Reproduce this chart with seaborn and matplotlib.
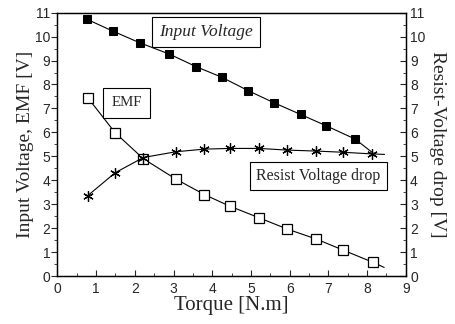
import matplotlib
matplotlib.use("Agg")
import matplotlib.pyplot as plt
from matplotlib.ticker import MultipleLocator
import seaborn as sns
import pandas as pd

sns.set_style("ticks")
plt.rcParams["font.family"] = ["Liberation Sans", "DejaVu Sans"]

# Input voltage (filled squares); the last entry is where the fitted curve ends
torque_in = [0.77, 1.43, 2.13, 2.89, 3.59, 4.25, 4.93, 5.59, 6.28, 6.95, 7.69, 8.18]
input_v = [10.72, 10.23, 9.74, 9.27, 8.74, 8.30, 7.74, 7.24, 6.75, 6.27, 5.72, 5.10]

# Back EMF (open squares)
torque_emf = [0.80, 1.49, 2.22, 3.06, 3.80, 4.45, 5.20, 5.94, 6.68, 7.37, 8.14, 8.44]
emf = [7.42, 5.99, 4.90, 4.05, 3.40, 2.92, 2.44, 1.96, 1.55, 1.09, 0.58, 0.36]

# Voltage drop across the winding resistance (asterisks, right axis)
torque_r = [0.78, 1.49, 2.22, 3.06, 3.79, 4.47, 5.21, 5.93, 6.67, 7.37, 8.13, 8.45]
resist = [3.35, 4.31, 4.95, 5.19, 5.30, 5.33, 5.33, 5.26, 5.22, 5.17, 5.10, 5.08]

x_ticks = list(range(0, 10))
y_ticks = list(range(0, 12))

df_in = pd.DataFrame({"torque": torque_in, "volt": input_v})
df_emf = pd.DataFrame({"torque": torque_emf, "volt": emf})
df_r = pd.DataFrame({"torque": torque_r, "volt": resist})

fig = plt.figure(figsize=(4.55, 3.24), dpi=100)
ax = fig.add_axes([0.126, 0.148, 0.766, 0.813])
ax2 = ax.twinx()

marked = slice(0, 11)
line_kw = dict(color="black", linewidth=0.8, sort=False, estimator=None)

sns.lineplot(data=df_in, x="torque", y="volt", ax=ax, marker="s", markersize=5.5,
             markerfacecolor="black", markeredgecolor="black", markevery=marked, **line_kw)
sns.lineplot(data=df_emf, x="torque", y="volt", ax=ax, marker="s", markersize=6.5,
             markerfacecolor="white", markeredgecolor="black", markeredgewidth=0.9,
             markevery=marked, **line_kw)
sns.lineplot(data=df_r, x="torque", y="volt", ax=ax2, marker=(6, 2, 0), markersize=7.5,
             markeredgecolor="black", markeredgewidth=0.9, markevery=marked, **line_kw)

for a in (ax, ax2):
    a.set_ylim(0, 11)
    a.set_yticks(y_ticks)
    a.yaxis.set_minor_locator(MultipleLocator(0.5))
ax.set_xlim(0, 9)
ax.set_xticks(x_ticks)
ax.xaxis.set_minor_locator(MultipleLocator(0.5))

ax.tick_params(axis="x", which="both", direction="in", labelsize=10, pad=4)
ax.tick_params(axis="x", which="major", length=4)
ax.tick_params(axis="x", which="minor", length=2)
ax.tick_params(axis="y", which="major", direction="out", length=4, labelsize=10, pad=1)
ax.tick_params(axis="y", which="minor", direction="out", length=2)
ax2.tick_params(axis="y", which="major", direction="in", length=4, labelsize=10, pad=3)
ax2.tick_params(axis="y", which="minor", direction="in", length=2)

for a in (ax, ax2):
    for s in a.spines.values():
        s.set_visible(True)
        s.set_linewidth(0.9)
        s.set_color("black")

serif = ["Liberation Serif", "DejaVu Serif"]
ax.set_xlabel("Torque [N.m]", family=serif, fontsize=15, labelpad=0)
ax.set_ylabel("Input Voltage, EMF [V]", family=serif, fontsize=14, labelpad=1)
ax2.set_ylabel("Resist-Voltage drop [V]", family=serif, fontsize=14,
               rotation=-90, labelpad=15)

box = dict(boxstyle="square,pad=0.4", facecolor="white", edgecolor="black", linewidth=0.8)
ax.text(3.84, 10.2, "Input Voltage", family=serif, style="italic", fontsize=12.5,
        ha="center", va="center", bbox=box)
ax.text(1.79, 7.23, "EMF", family=serif, fontsize=10.7,
        ha="center", va="center", bbox=dict(box, boxstyle="square,pad=0.55"))
ax.text(6.74, 4.18, "Resist Voltage drop", family=serif, fontsize=11.5,
        ha="center", va="center", bbox=box)

fig.savefig("out.png", dpi=100)
